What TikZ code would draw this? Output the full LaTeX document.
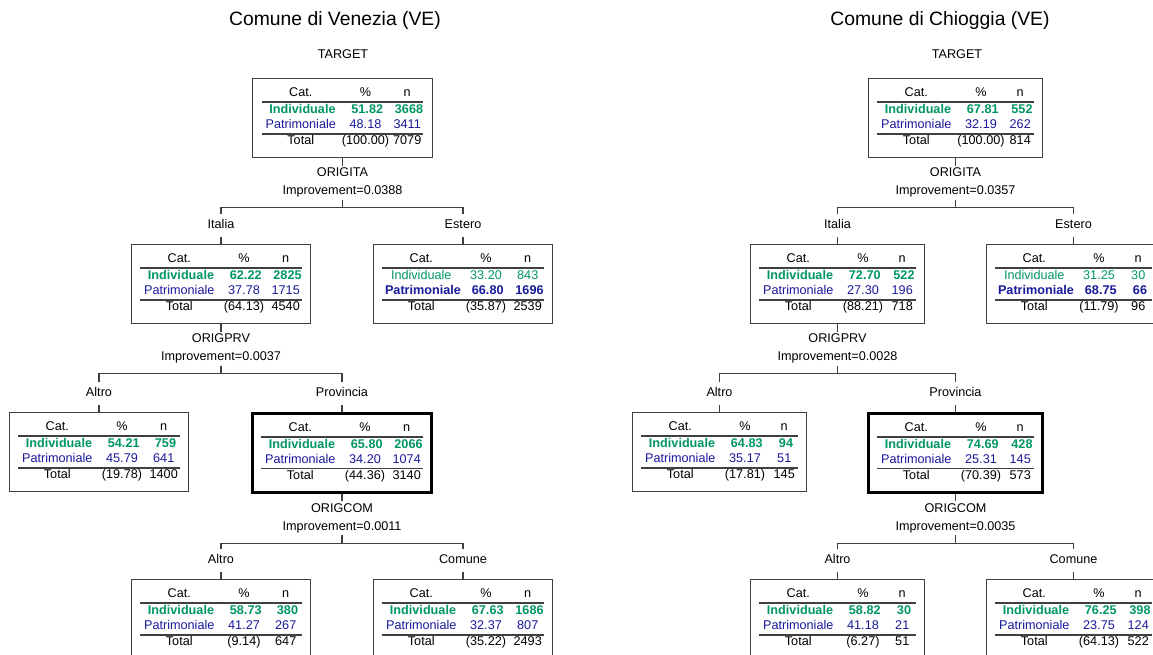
\documentclass[tikz,border=0pt]{standalone}
\usepackage{fontspec}
\setmainfont{Liberation Sans}
\usepackage{array,colortbl}
\usetikzlibrary{positioning}

\definecolor{indgreen}{RGB}{0,150,100}
\definecolor{patblue}{RGB}{25,25,155}
\definecolor{linegray}{RGB}{64,64,64}

\newlength{\px}
\setlength{\px}{0.02cm}
\newcommand{\tabfont}{\fontsize{7.2pt}{8.5pt}\selectfont}

% category table inside a tree node
\newcommand{\cattab}[9]{%
  \setlength{\tabcolsep}{0pt}\setlength{\arrayrulewidth}{1.6\px}\arrayrulecolor{linegray}%
  \begin{tabular}{@{}w{c}{78\px}w{c}{51.5\px}w{c}{#1}@{}}
    Cat. & \% & n\\ \hline
    \textcolor{indgreen}{#2 Individuale} & \textcolor{indgreen}{#2 #3} & \textcolor{indgreen}{#2 #4}\\
    \textcolor{patblue}{#5 Patrimoniale} & \textcolor{patblue}{#5 #6} & \textcolor{patblue}{#5 #7}\\ \hline
    Total & (#8) & #9
  \end{tabular}}

\begin{document}
\begin{tikzpicture}[
        x=0.02cm, y=-0.02cm,
        catbox/.style={
            rectangle,
            draw=linegray,
            line width=0.6pt,
            fill=white,
            inner xsep=9\px,
            inner ysep=8\px,
            anchor=north,
            font=\tabfont
        },
        bestbox/.style={catbox, draw=black, line width=1.5pt},
        splitlab/.style={align=center, inner ysep=2\px, font=\fontsize{7.2pt}{10.2pt}\selectfont},
        branchlab/.style={font=\tabfont, text height=9.3\px, text depth=4.3\px, inner ysep=4.2\px},
        targetlab/.style={font=\tabfont},
        headtitle/.style={font=\fontsize{11pt}{13pt}\selectfont},
        link/.style={draw=linegray, line width=0.6pt}
    ]

    \useasboundingbox (0,0) rectangle (1153,654);
    \clip (0,0) rectangle (1153,654);
    \fill [white] (0,0) rectangle (1153,654);

    % Comune di Venezia
    \node (vtitle)  [headtitle] at (335,20) {Comune di Venezia (VE)};
    \node (vtarget) [targetlab] at (343,54) {TARGET};
    \node (vroot)   [catbox] at (342.5,78) {\cattab{32\px}{\bfseries}{51.82}{3668}{}{48.18}{3411}{100.00}{7079}};
    \node (vs1)     [splitlab, below=7.5\px of vroot] {ORIGITA\\Improvement=0.0388};
    \coordinate [below=8\px of vs1] (vh1);

    \node (vita)  [catbox] at (221,244) {\cattab{32\px}{\bfseries}{62.22}{2825}{}{37.78}{1715}{64.13}{4540}};
    \node (vest)  [catbox] at (463,244) {\cattab{32\px}{}{33.20}{843}{\bfseries}{66.80}{1696}{35.87}{2539}};
    \node (vlita) [branchlab, above=7\px of vita] {Italia};
    \node (vlest) [branchlab, above=7\px of vest] {Estero};
    \node (vs2)   [splitlab, below=7.5\px of vita] {ORIGPRV\\Improvement=0.0037};
    \coordinate [below=8\px of vs2] (vh2);

    \node (vprvalt)  [catbox] at (99,412) {\cattab{32\px}{\bfseries}{54.21}{759}{}{45.79}{641}{19.78}{1400}};
    \node (vprv)     [bestbox] at (342,412) {\cattab{32\px}{\bfseries}{65.80}{2066}{}{34.20}{1074}{44.36}{3140}};
    \node (vlprvalt) [branchlab, above=7\px of vprvalt] {Altro};
    \node (vlprv)    [branchlab, above=7\px of vprv] {Provincia};
    \node (vs3)      [splitlab, below=7.5\px of vprv] {ORIGCOM\\Improvement=0.0011};
    \coordinate [below=8\px of vs3] (vh3);

    \node (vcomalt)  [catbox] at (221,579) {\cattab{32\px}{\bfseries}{58.73}{380}{}{41.27}{267}{9.14}{647}};
    \node (vcom)     [catbox] at (463,579) {\cattab{32\px}{\bfseries}{67.63}{1686}{}{32.37}{807}{35.22}{2493}};
    \node (vlcomalt) [branchlab, above=7\px of vcomalt] {Altro};
    \node (vlcom)    [branchlab, above=7\px of vcom] {Comune};

    \draw [link] (vroot) -- (vs1);
    \draw [link] (vs1) -- (vh1);
    \draw [link] (vlita) |- (vh1) -| (vlest);
    \draw [link] (vlita) -- (vita);
    \draw [link] (vlest) -- (vest);
    \draw [link] (vita) -- (vs2);
    \draw [link] (vs2) -- (vh2);
    \draw [link] (vlprvalt) |- (vh2) -| (vlprv);
    \draw [link] (vlprvalt) -- (vprvalt);
    \draw [link] (vlprv) -- (vprv);
    \draw [link] (vprv) -- (vs3);
    \draw [link] (vs3) -- (vh3);
    \draw [link] (vlcomalt) |- (vh3) -| (vlcom);
    \draw [link] (vlcomalt) -- (vcomalt);
    \draw [link] (vlcom) -- (vcom);

    % Comune di Chioggia
    \node (ctitle)  [headtitle] at (940,20) {Comune di Chioggia (VE)};
    \node (ctarget) [targetlab] at (957,54) {TARGET};
    \node (croot)   [catbox] at (955.5,78) {\cattab{27\px}{\bfseries}{67.81}{552}{}{32.19}{262}{100.00}{814}};
    \node (cs1)     [splitlab, below=7.5\px of croot] {ORIGITA\\Improvement=0.0357};
    \coordinate [below=8\px of cs1] (ch1);

    \node (cita)  [catbox] at (837.5,244) {\cattab{27\px}{\bfseries}{72.70}{522}{}{27.30}{196}{88.21}{718}};
    \node (cest)  [catbox] at (1073.5,244) {\cattab{27\px}{}{31.25}{30}{\bfseries}{68.75}{66}{11.79}{96}};
    \node (clita) [branchlab, above=7\px of cita] {Italia};
    \node (clest) [branchlab, above=7\px of cest] {Estero};
    \node (cs2)   [splitlab, below=7.5\px of cita] {ORIGPRV\\Improvement=0.0028};
    \coordinate [below=8\px of cs2] (ch2);

    \node (cprvalt)  [catbox] at (719.5,412) {\cattab{27\px}{\bfseries}{64.83}{94}{}{35.17}{51}{17.81}{145}};
    \node (cprv)     [bestbox] at (955.5,412) {\cattab{27\px}{\bfseries}{74.69}{428}{}{25.31}{145}{70.39}{573}};
    \node (clprvalt) [branchlab, above=7\px of cprvalt] {Altro};
    \node (clprv)    [branchlab, above=7\px of cprv] {Provincia};
    \node (cs3)      [splitlab, below=7.5\px of cprv] {ORIGCOM\\Improvement=0.0035};
    \coordinate [below=8\px of cs3] (ch3);

    \node (ccomalt)  [catbox] at (837.5,579) {\cattab{27\px}{\bfseries}{58.82}{30}{}{41.18}{21}{6.27}{51}};
    \node (ccom)     [catbox] at (1073.5,579) {\cattab{27\px}{\bfseries}{76.25}{398}{}{23.75}{124}{64.13}{522}};
    \node (clcomalt) [branchlab, above=7\px of ccomalt] {Altro};
    \node (clcom)    [branchlab, above=7\px of ccom] {Comune};

    \draw [link] (croot) -- (cs1);
    \draw [link] (cs1) -- (ch1);
    \draw [link] (clita) |- (ch1) -| (clest);
    \draw [link] (clita) -- (cita);
    \draw [link] (clest) -- (cest);
    \draw [link] (cita) -- (cs2);
    \draw [link] (cs2) -- (ch2);
    \draw [link] (clprvalt) |- (ch2) -| (clprv);
    \draw [link] (clprvalt) -- (cprvalt);
    \draw [link] (clprv) -- (cprv);
    \draw [link] (cprv) -- (cs3);
    \draw [link] (cs3) -- (ch3);
    \draw [link] (clcomalt) |- (ch3) -| (clcom);
    \draw [link] (clcomalt) -- (ccomalt);
    \draw [link] (clcom) -- (ccom);

\end{tikzpicture}
\end{document}
